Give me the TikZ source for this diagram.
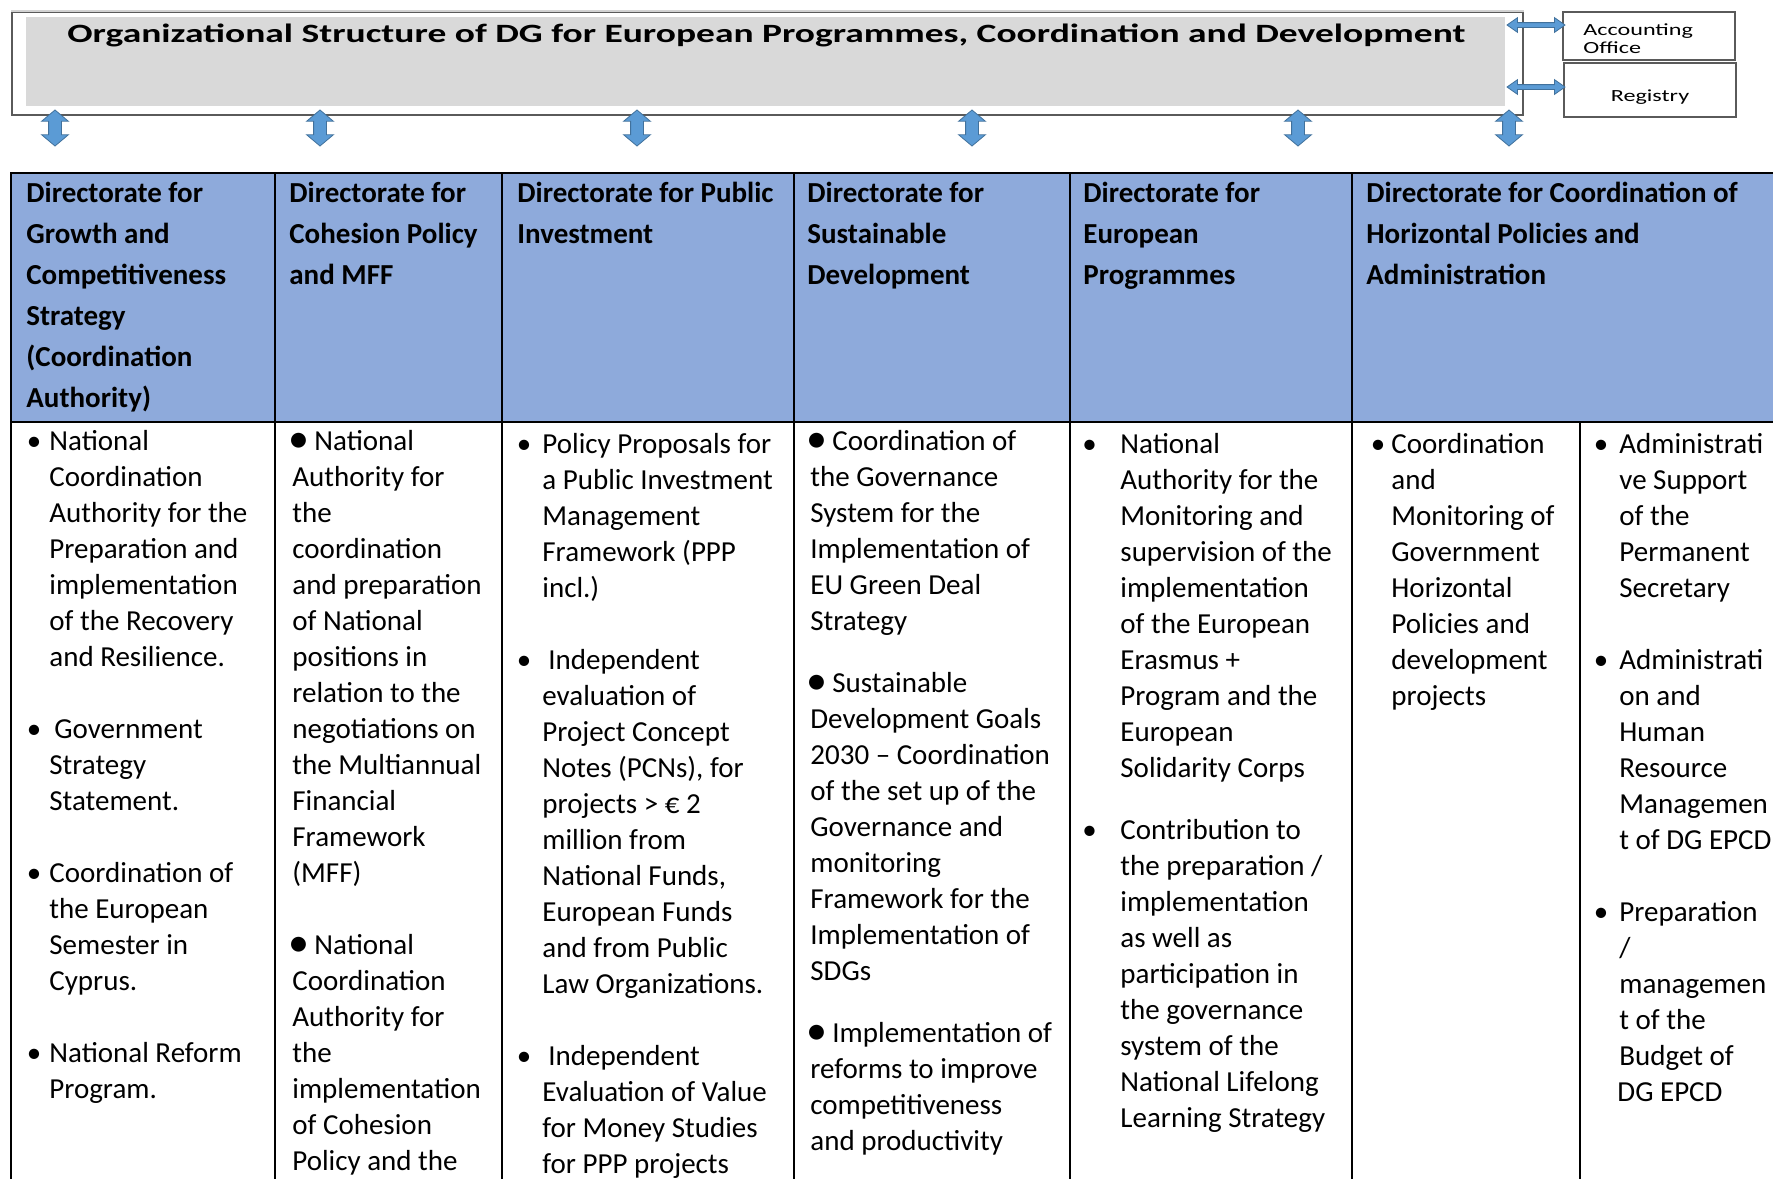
\documentclass[tikz,border=0pt]{standalone}
\usepackage{fontspec}
\setmainfont{Carlito}
\newfontfamily\widefont[FakeStretch=1.42]{Carlito}
\usetikzlibrary{shapes.arrows}

\definecolor{headblue}{RGB}{142,170,219}
\definecolor{titlegray}{RGB}{217,217,217}
\definecolor{arrowblue}{RGB}{91,155,213}
\definecolor{arrowedge}{RGB}{65,113,156}
\definecolor{boxedge}{RGB}{90,90,90}

\newcommand{\topstrut}{\rule{0pt}{12pt}}
\newcommand{\dgbullet}[1]{\llap{\textbullet\hspace{#1}}}
\newcommand{\dgdot}{\makebox[11pt][l]{\hspace{-2pt}\raisebox{-1.2pt}{\fontsize{21}{18}\selectfont\textbullet}}}

\tikzset{
  vdouble/.style={double arrow, rotate=90, draw=arrowedge, fill=arrowblue,
    line width=0.4pt, inner sep=0pt, inner ysep=3pt, minimum height=18pt,
    double arrow head extend=3.5pt, double arrow tip angle=100},
  hdouble/.style={double arrow, draw=arrowedge, fill=arrowblue,
    line width=0.4pt, inner sep=0pt, inner ysep=1pt, minimum height=29pt,
    double arrow head extend=2.5pt, double arrow tip angle=70},
  headcell/.style={anchor=north west, inner sep=0pt, align=left,
    font=\fontsize{14.5}{20.5}\selectfont\bfseries},
  bodycell/.style={anchor=north west, inner sep=0pt, align=left,
    font=\fontsize{14.5}{18}\selectfont},
  tablerule/.style={line width=1pt},
  smallbox/.style={draw=boxedge, line width=0.8pt, anchor=north west, inner sep=0pt,
    minimum width=86pt}
}

\begin{document}
\begin{tikzpicture}[x=0.5pt,y=-0.5pt]
\useasboundingbox (0,0) rectangle (1773,1179);
\clip (0,0) rectangle (1773,1179);

\node (dgbox) [draw=boxedge, line width=0.8pt, anchor=north west, inner sep=0pt,
  minimum width=755.5pt, minimum height=51.5pt] at (11,11) {};
\draw[gray!35, line width=0.8pt] (dgbox.north west) -- (dgbox.north east);
\node (dgfill) [fill=titlegray, anchor=north west, inner sep=0pt,
  minimum width=739.5pt, minimum height=44.5pt] at (26,17) {};
\node (title) [anchor=base west, inner sep=0pt,
  font=\widefont\bfseries\fontsize{13.2}{15}\selectfont] at (67,42)
  {Organizational Structure of DG for European Programmes, Coordination and Development};

\node (acc) [smallbox, minimum height=24pt] at (1562,11) {};
\node (reg) [smallbox, minimum height=27pt] at (1563,62) {};
\node (acctext) [anchor=base west, inner sep=0pt, align=left,
  font=\widefont\fontsize{8.5}{9}\selectfont] at (1583,53) {Accounting\\Office};
\node (regtext) [anchor=base, inner sep=0pt,
  font=\widefont\fontsize{8.5}{9}\selectfont] at (1650,101) {Registry};

\node (ha) [hdouble] at (1536,25) {};
\node (hb) [hdouble] at (1536,87) {};
\foreach \x [count=\i] in {55,320,637,972,1298,1509}
  \node (va\i) [vdouble] at (\x,128) {};

\fill[headblue] (11,173) rectangle (1773,422);
\draw[tablerule] (1773,173) -- (11,173) -- (11,1179);
\draw[tablerule] (11,422) -- (1773,422);
\foreach \x in {275,502,794,1070,1352}
  \draw[tablerule] (\x,173) -- (\x,1179);
\draw[tablerule] (1580,422) -- (1580,1179);

\node (h1) [headcell] at (26,178) {\topstrut Directorate for\\Growth and\\Competitiveness\\Strategy\\(Coordination\\Authority)};
\node (h2) [headcell] at (289,178) {\topstrut Directorate for\\Cohesion Policy\\and MFF};
\node (h3) [headcell] at (517,178) {\topstrut Directorate for Public\\Investment};
\node (h4) [headcell] at (807,178) {\topstrut Directorate for\\Sustainable\\Development};
\node (h5) [headcell] at (1083,178) {\topstrut Directorate for\\European\\Programmes};
\node (h6) [headcell] at (1366,178) {\topstrut Directorate for Coordination of\\Horizontal Policies and\\Administration};

\node (b1) [bodycell] at (49,426) {\topstrut\dgbullet{4pt}National\\
Coordination\\
Authority for the\\
Preparation and\\
implementation\\
of the Recovery\\
and Resilience.\\[18pt]
\dgbullet{4pt}\hspace{2.5pt}Government\\
Strategy\\
Statement.\\[18pt]
\dgbullet{4pt}Coordination of\\
the European\\
Semester in\\
Cyprus.\\[18pt]
\dgbullet{4pt}National Reform\\
Program.};

\node (b2) [bodycell] at (292,426) {\topstrut\dgdot National\\
Authority for\\
the\\
coordination\\
and preparation\\
of National\\
positions in\\
relation to the\\
negotiations on\\
the Multiannual\\
Financial\\
Framework\\
(MFF)\\[18pt]
\dgdot National\\
Coordination\\
Authority for\\
the\\
implementation\\
of Cohesion\\
Policy and the};

\node (b3) [bodycell] at (542,429) {\topstrut\dgbullet{5.5pt}Policy Proposals for\\
a Public Investment\\
Management\\
Framework (PPP\\
incl.)\\[18pt]
\dgbullet{5.5pt}\hspace{3pt}Independent\\
evaluation of\\
Project Concept\\
Notes (PCNs), for\\
projects > € 2\\
million from\\
National Funds,\\
European Funds\\
and from Public\\
Law Organizations.\\[18pt]
\dgbullet{5.5pt}\hspace{3pt}Independent\\
Evaluation of Value\\
for Money Studies\\
for PPP projects};

\node (b4) [bodycell] at (810,426) {\topstrut\dgdot Coordination of\\
the Governance\\
System for the\\
Implementation of\\
EU Green Deal\\
Strategy\\[13pt]
\dgdot Sustainable\\
Development Goals\\
2030 -- Coordination\\
of the set up of the\\
Governance and\\
monitoring\\
Framework for the\\
Implementation of\\
SDGs\\[13pt]
\dgdot Implementation of\\
reforms to improve\\
competitiveness\\
and productivity};

\node (b5) [bodycell] at (1120,429) {\topstrut\dgbullet{11.75pt}National\\
Authority for the\\
Monitoring and\\
supervision of the\\
implementation\\
of the European\\
Erasmus +\\
Program and the\\
European\\
Solidarity Corps\\[13pt]
\dgbullet{11.75pt}Contribution to\\
the preparation /\\
implementation\\
as well as\\
participation in\\
the governance\\
system of the\\
National Lifelong\\
Learning Strategy};

\node (b6) [bodycell] at (1391,429) {\topstrut\dgbullet{3pt}Coordination\\
and\\
Monitoring of\\
Government\\
Horizontal\\
Policies and\\
development\\
projects};

\node (b7) [bodycell] at (1619,429) {\topstrut\dgbullet{5.5pt}Administrati\\
ve Support\\
of the\\
Permanent\\
Secretary\\[18pt]
\dgbullet{5.5pt}Administrati\\
on and\\
Human\\
Resource\\
Managemen\\
t of DG EPCD\\[18pt]
\dgbullet{5.5pt}Preparation\\
/\\
managemen\\
t of the\\
Budget of\\
\hspace{-1pt}DG EPCD};
\end{tikzpicture}
\end{document}
